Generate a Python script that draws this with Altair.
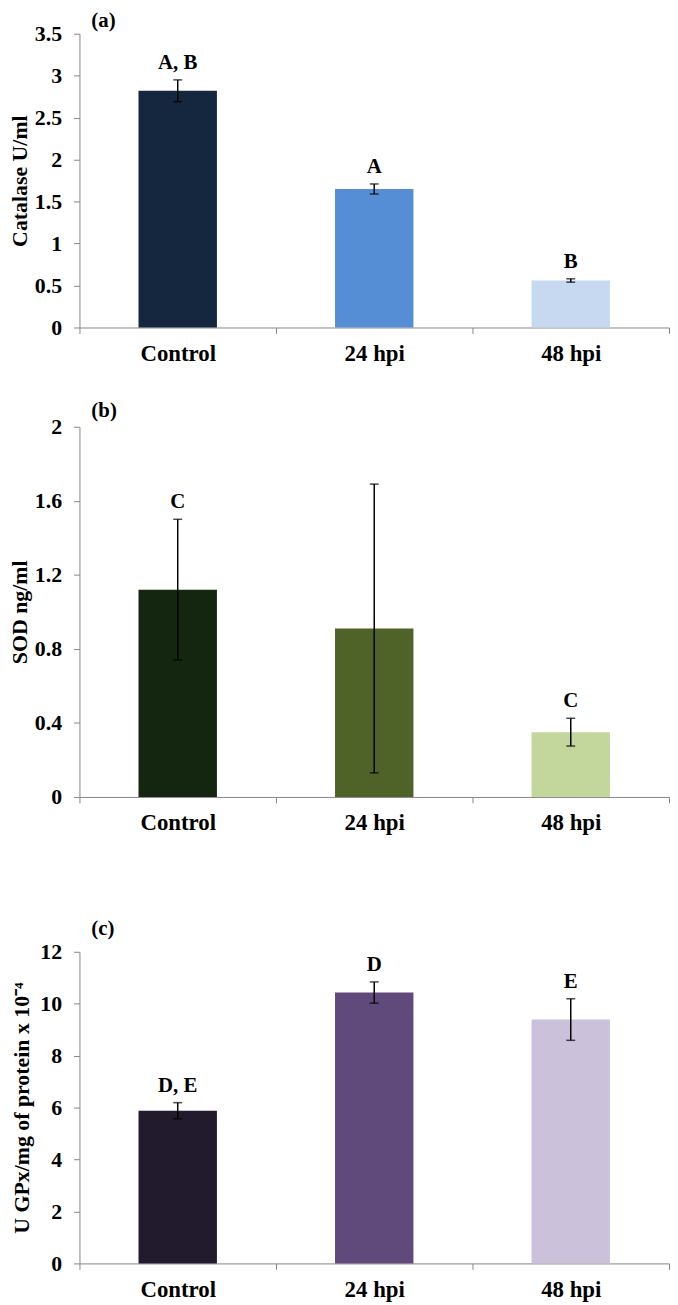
import altair as alt
import pandas as pd

# ---- data ----
categories = ["Control", "24 hpi", "48 hpi"]

catalase_mean = [2.82, 1.65, 0.56]
catalase_err = [0.13, 0.06, 0.02]
catalase_sig = ["A, B", "A", "B"]

sod_mean = [1.12, 0.91, 0.35]
sod_err = [0.38, 0.78, 0.075]
sod_sig = ["C", "", "C"]

gpx_mean = [5.88, 10.43, 9.39]
gpx_err = [0.31, 0.41, 0.80]
gpx_sig = ["D, E", "D", "E"]

catalase_ticks = [0, 0.5, 1, 1.5, 2, 2.5, 3, 3.5]
sod_ticks = [0, 0.4, 0.8, 1.2, 1.6, 2]
gpx_ticks = [0, 2, 4, 6, 8, 10, 12]

# ---- styles ----
blue_palette = ["#14273F", "#558ED5", "#C6D9F1"]
green_palette = ["#14260F", "#4F6228", "#C3D69B"]
purple_palette = ["#221B2D", "#604A7B", "#CCC1DA"]

FONT = "Liberation Serif"
AXIS_GRAY = "#868686"
W = 594


def panel(means, errs, sigs, palette, ticks, fmt, ytitle, height, tag,
          tag_offset, ytitle_pad, extra_bottom=None):
    df = pd.DataFrame({
        "cat": categories,
        "mean": means,
        "lo": [m - e for m, e in zip(means, errs)],
        "hi": [m + e for m, e in zip(means, errs)],
        "sig": sigs,
    })
    xaxis_kwargs = dict(
        labelAngle=0, tickBand="extent", tickSize=6, labelPadding=9,
        labelFont=FONT, labelFontWeight="bold", labelFontSize=23,
        labelColor="black", domainColor=AXIS_GRAY, tickColor=AXIS_GRAY,
        grid=False,
    )
    if extra_bottom is not None:
        xaxis_kwargs.update(title=" ", titleFontSize=20, titlePadding=extra_bottom,
                            titleFont=FONT)
    else:
        xaxis_kwargs.update(title=None)
    x = alt.X("cat:N", sort=categories,
              scale=alt.Scale(paddingInner=0, paddingOuter=0),
              axis=alt.Axis(**xaxis_kwargs))
    yscale = alt.Scale(domain=[ticks[0], ticks[-1]], nice=False, zero=True)
    yaxis = alt.Axis(
        values=ticks, format=fmt, title=ytitle, grid=False,
        tickSize=6, labelPadding=12, titlePadding=ytitle_pad,
        labelFont=FONT, labelFontWeight="bold", labelFontSize=22,
        labelColor="black", titleFont=FONT, titleFontWeight="bold",
        titleFontSize=22, titleColor="black", domainColor=AXIS_GRAY,
        tickColor=AXIS_GRAY,
    )
    base = alt.Chart(df)
    bars = base.mark_bar(size=79).encode(
        x=x,
        y=alt.Y("mean:Q", scale=yscale, axis=yaxis),
        color=alt.Color("cat:N", sort=categories,
                        scale=alt.Scale(domain=categories, range=palette),
                        legend=None),
    )
    rule = base.mark_rule(color="black", strokeWidth=1.5).encode(
        x=x, y="lo:Q", y2="hi:Q")
    cap_lo = base.mark_tick(color="black", thickness=1.5, size=9).encode(
        x=x, y="lo:Q")
    cap_hi = base.mark_tick(color="black", thickness=1.5, size=9).encode(
        x=x, y="hi:Q")
    text = base.mark_text(dy=-17, baseline="middle", font=FONT,
                          fontWeight="bold", fontSize=21, color="black").encode(
        x=x, y="hi:Q", text="sig:N")
    return alt.layer(bars, rule, cap_lo, cap_hi, text).properties(
        width=W, height=height,
        title=alt.TitleParams(tag, anchor="start", frame="group", offset=tag_offset,
                              dx=12, font=FONT, fontWeight="bold", fontSize=21,
                              color="black"),
    )


a = panel(catalase_mean, catalase_err, catalase_sig, blue_palette,
          catalase_ticks, ".1~f", "Catalase U/ml", 296, "(a)", -8, 3)
b = panel(sod_mean, sod_err, sod_sig, green_palette,
          sod_ticks, ".1~f", "SOD ng/ml", 373, "(b)", -5, 3, extra_bottom=29)
c = panel(gpx_mean, gpx_err, gpx_sig, purple_palette,
          gpx_ticks, "d", "U GPx/mg of protein x 10\u207b\u2074", 314, "(c)", 2, 6)

chart = alt.vconcat(a, b, c, spacing=35).resolve_scale(
    color="independent"
).properties(
    padding={"left": 0, "top": -3, "right": 0, "bottom": 0},
    background="white",
).configure_view(stroke=None)

chart.save("out.html", embed_options={"renderer": "svg", "actions": False})
